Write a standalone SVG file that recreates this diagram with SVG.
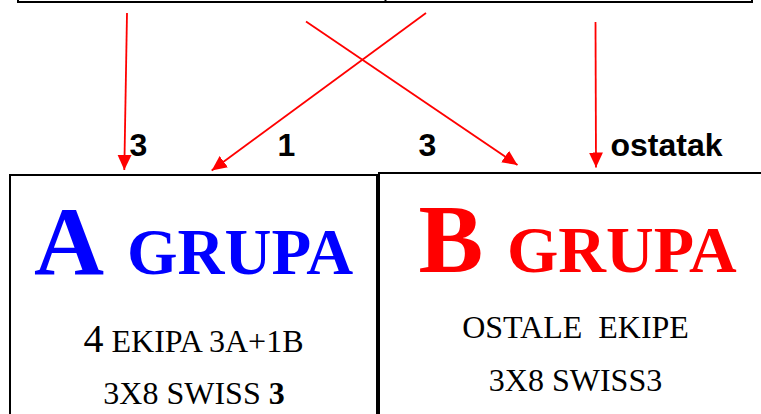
<svg xmlns="http://www.w3.org/2000/svg" width="761" height="414" viewBox="0 0 761 414">
<style>
.box{fill:#fff;stroke:#000;stroke-width:2}
.conn{stroke:#ff0000;stroke-width:1.8;fill:none}
.lbl{font-family:"Liberation Sans",Arial,sans-serif;font-weight:bold;font-size:32px;fill:#000}
.big{font-family:"Liberation Serif","Times New Roman",serif;font-weight:bold}
.body{font-family:"Liberation Serif","Times New Roman",serif;font-size:32px;fill:#000}
</style>
<defs>
<marker id="ah" markerUnits="userSpaceOnUse" markerWidth="16" markerHeight="16" viewBox="0 0 16 16" refX="15" refY="8" orient="auto">
<path d="M0,1 L15,8 L0,15 Z" fill="#ff0000"/>
</marker>
</defs>
<g id="top">
<rect class="box" x="18" y="-40" width="734" height="42"/>
<line x1="385.5" y1="-40" x2="385.5" y2="2" stroke="#000" stroke-width="2"/>
</g>
<g id="connectors">
<line class="conn" x1="127" y1="13" x2="124.3" y2="170" marker-end="url(#ah)"/>
<line class="conn" x1="426" y1="13" x2="211.7" y2="170.5" marker-end="url(#ah)"/>
<line class="conn" x1="306" y1="21.5" x2="517.5" y2="165" marker-end="url(#ah)"/>
<line class="conn" x1="595.5" y1="22" x2="596" y2="167.5" marker-end="url(#ah)"/>
</g>
<g id="labels">
<text class="lbl" x="138.5" y="156" text-anchor="middle">3</text>
<text class="lbl" x="286.5" y="156" text-anchor="middle">1</text>
<text class="lbl" x="427.5" y="156" text-anchor="middle">3</text>
<text class="lbl" x="610.5" y="156">ostatak</text>
</g>
<g id="groupA">
<rect class="box" x="10" y="175" width="367" height="260"/>
<text class="big" x="34" y="274" font-size="97" fill="#0000ff">A</text>
<text class="big" x="127" y="274" font-size="65" fill="#0000ff">GRUPA</text>
<text class="body" x="193.5" y="351.5" text-anchor="middle" font-size="33"><tspan font-size="40">4</tspan> EKIPA 3A+1B</text>
<text class="body" x="194" y="404" text-anchor="middle">3X8 SWISS <tspan font-weight="bold">3</tspan></text>
</g>
<g id="groupB">
<rect class="box" x="379" y="173" width="395" height="262"/>
<text class="big" x="418.5" y="272" font-size="97" fill="#ff0000">B</text>
<text class="big" x="507" y="272" font-size="66" fill="#ff0000">GRUPA</text>
<text class="body" x="575.5" y="338" text-anchor="middle" xml:space="preserve" style="white-space:pre">OSTALE  EKIPE</text>
<text class="body" x="575.5" y="391" text-anchor="middle">3X8 SWISS3</text>
</g>
</svg>
